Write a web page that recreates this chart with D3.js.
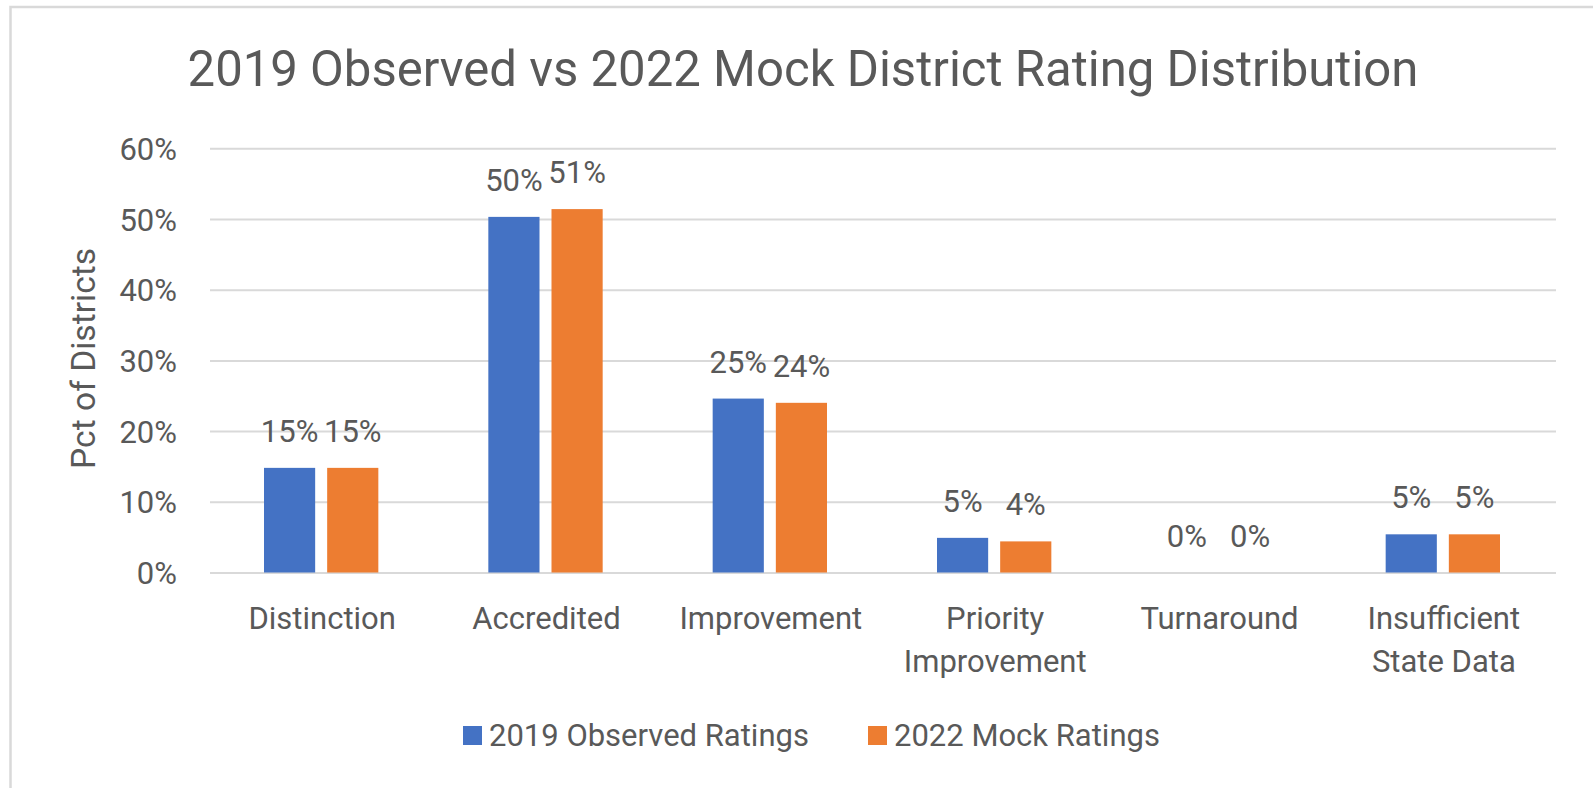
<!DOCTYPE html>
<html lang="en">

<head>
    <meta charset="UTF-8">
    <title>2019 Observed vs 2022 Mock District Rating Distribution</title>
    <script src="https://cdn.jsdelivr.net/npm/d3@7/dist/d3.min.js"></script>
    <style>
        html, body {
            margin: 0;
            padding: 0;
            background: #fff;
        }
        svg {
            display: block;
            font-family: Roboto, "Open Sans", sans-serif;
        }
    </style>
</head>

<body>
    <svg width="1593" height="788"></svg>
    <script>
        // chart data
        var categories = ['Distinction', 'Accredited', 'Improvement', 'Priority Improvement', 'Turnaround', 'Insufficient State Data'];
        var seriesNames = ['2019 Observed Ratings', '2022 Mock Ratings'];
        var observed2019 = [0.148, 0.503, 0.246, 0.049, 0, 0.054];
        var mock2022 = [0.148, 0.514, 0.240, 0.044, 0, 0.054];
        var yTicks = [0, 0.1, 0.2, 0.3, 0.4, 0.5, 0.6];
        var colors = ['#4472C4', '#ED7D31'];

        var textColor = '#595959';
        var gridColor = '#d9d9d9';

        var svg = d3.select('svg');

        // outer chart border (only top + left show in the picture)
        svg.append('rect')
            .attr('x', 10.5).attr('y', 7)
            .attr('width', 1620).attr('height', 820)
            .attr('fill', 'none')
            .attr('stroke', gridColor)
            .attr('stroke-width', 2.5);

        var plot = { left: 210, right: 1556, top: 148.3, bottom: 572.5 };

        var x0 = d3.scaleBand()
            .domain(categories)
            .range([plot.left, plot.right])
            .padding(0);

        var x1 = d3.scaleBand()
            .domain(seriesNames)
            .range([54, x0.bandwidth() - 56])
            .paddingInner(0.19);

        var y = d3.scaleLinear()
            .domain([0, 0.6])
            .range([plot.bottom, plot.top]);

        var pct = d3.format('.0%');

        // title
        svg.append('text')
            .attr('x', 803)
            .attr('y', 86)
            .attr('text-anchor', 'middle')
            .style('font-size', '49.1px')
            .style('fill', textColor)
            .text('2019 Observed vs 2022 Mock District Rating Distribution');

        // gridlines
        var grid = svg.append('g')
            .attr('transform', 'translate(' + plot.left + ',0)')
            .call(d3.axisLeft(y).tickValues(yTicks).tickSize(-(plot.right - plot.left)).tickFormat(''));
        grid.select('.domain').remove();
        grid.selectAll('line').attr('stroke', gridColor).attr('stroke-width', 2);

        // y tick labels
        var yAxis = svg.append('g')
            .attr('transform', 'translate(177,0)')
            .call(d3.axisLeft(y).tickValues(yTicks).tickSize(0).tickPadding(0).tickFormat(pct));
        yAxis.select('.domain').remove();
        yAxis.selectAll('text')
            .style('font-size', '31px')
            .style('font-family', 'Roboto, sans-serif')
            .attr('fill', textColor)
            .attr('dy', '0.36em');

        // y axis title
        svg.append('text')
            .attr('transform', 'translate(95,' + ((plot.top + plot.bottom) / 2 - 2) + ') rotate(-90)')
            .attr('text-anchor', 'middle')
            .style('font-size', '33.6px')
            .style('fill', textColor)
            .text('Pct of Districts');

        // x axis category labels
        var xAxis = svg.append('g')
            .attr('transform', 'translate(0,' + plot.bottom + ')')
            .call(d3.axisBottom(x0).tickSize(0));
        xAxis.select('.domain').remove();
        xAxis.selectAll('text')
            .style('font-size', '31px')
            .style('font-family', 'Roboto, sans-serif')
            .attr('fill', textColor)
            .call(wrap, 200);

        // bars
        var groups = svg.append('g')
            .selectAll('g')
            .data(categories)
            .enter().append('g')
            .attr('transform', function (d) { return 'translate(' + x0(d) + ',0)'; });

        var bars = groups.selectAll('rect')
            .data(function (d, i) {
                return [
                    { key: seriesNames[0], value: observed2019[i], color: colors[0] },
                    { key: seriesNames[1], value: mock2022[i], color: colors[1] }
                ];
            })
            .enter();

        bars.append('rect')
            .attr('x', function (d) { return x1(d.key); })
            .attr('y', function (d) { return y(d.value); })
            .attr('width', x1.bandwidth())
            .attr('height', function (d) { return y(0) - y(d.value); })
            .attr('fill', function (d) { return d.color; });

        // data labels
        bars.append('text')
            .attr('x', function (d) { return x1(d.key) + x1.bandwidth() / 2; })
            .attr('y', function (d) { return y(d.value) - 26; })
            .attr('text-anchor', 'middle')
            .style('font-size', '31px')
            .style('fill', textColor)
            .text(function (d) { return pct(d.value); });

        // legend
        var legend = svg.append('g')
            .selectAll('g')
            .data(seriesNames)
            .enter().append('g')
            .attr('transform', function (d, i) { return 'translate(' + (463 + i * 405) + ',726)'; });

        legend.append('rect')
            .attr('width', 19)
            .attr('height', 19)
            .attr('fill', function (d, i) { return colors[i]; });

        legend.append('text')
            .attr('x', 26)
            .attr('y', 20)
            .style('font-size', '31px')
            .style('fill', textColor)
            .text(function (d) { return d; });

        // 按宽度把类别名换行
        function wrap(text, width) {
            text.each(function () {
                var t = d3.select(this),
                    words = t.text().split(/\s+/),
                    lines = [],
                    line = [];
                t.text(null);
                var tspan = t.append('tspan');
                words.forEach(function (w) {
                    line.push(w);
                    tspan.text(line.join(' '));
                    if (tspan.node().getComputedTextLength() > width && line.length > 1) {
                        line.pop();
                        lines.push(line.join(' '));
                        line = [w];
                    }
                });
                lines.push(line.join(' '));
                t.text(null);
                lines.forEach(function (l, i) {
                    t.append('tspan')
                        .attr('x', 0)
                        .attr('y', 56 + i * 43)
                        .attr('dy', 0)
                        .text(l);
                });
            });
        }
    </script>
</body>

</html>
